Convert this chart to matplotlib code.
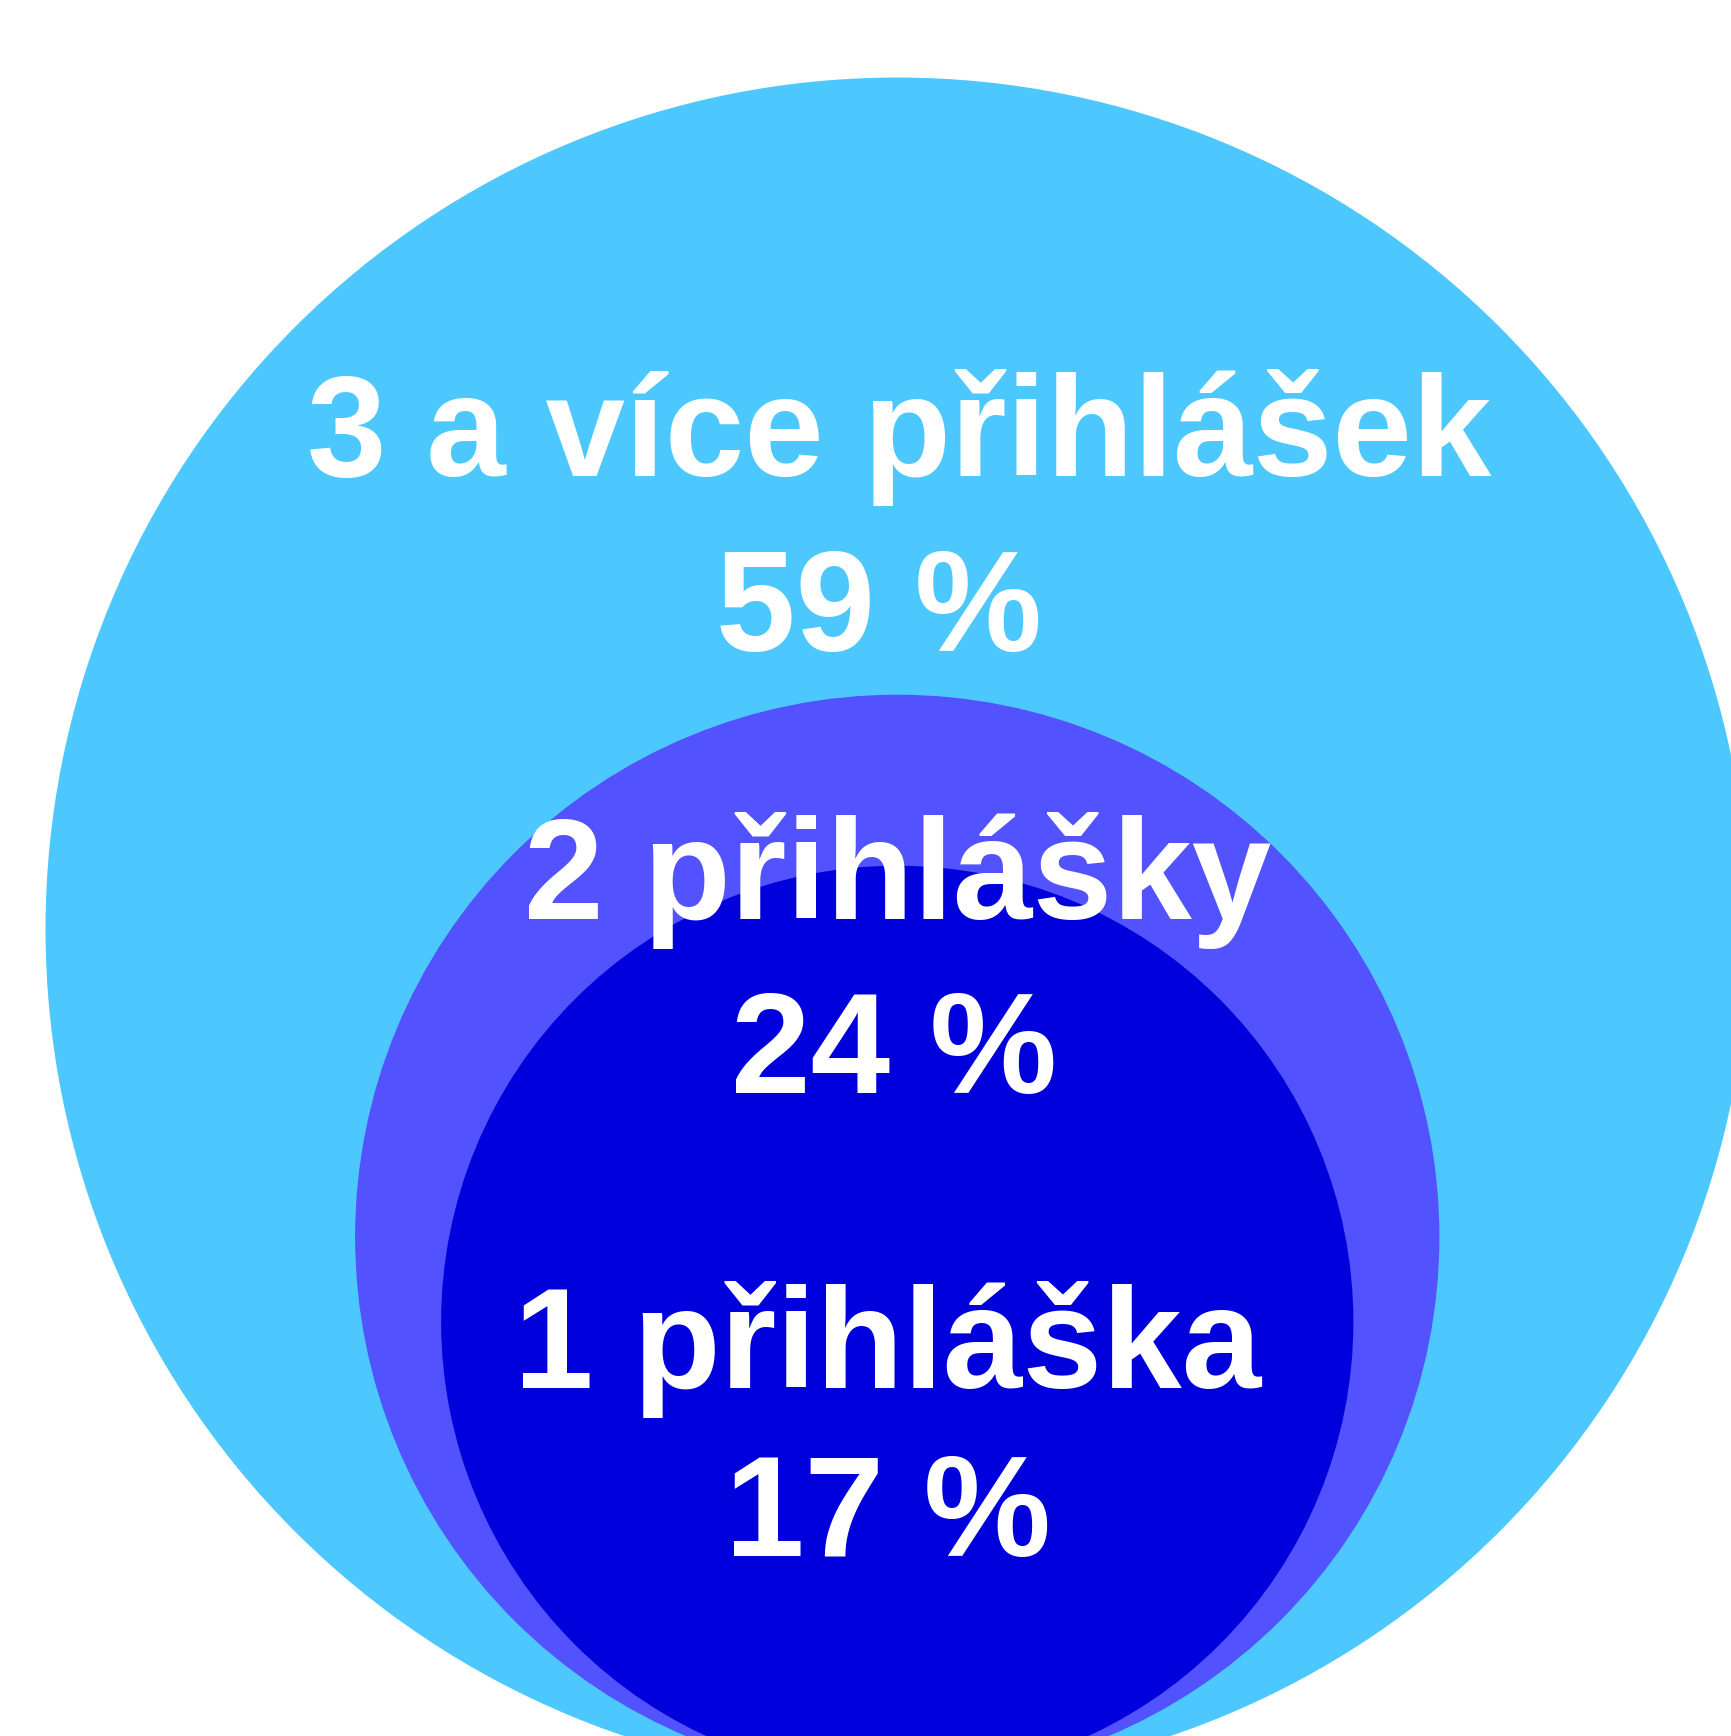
import matplotlib
matplotlib.use("Agg")
import matplotlib.pyplot as plt
from matplotlib.patches import Circle

# categories (outer to inner) and their shares
labels = ["3 a více přihlášek", "2 přihlášky", "1 přihláška"]
shares = [59, 24, 17]
colors = ["#4DC8FF", "#5252FF", "#0000DC"]

# circle layout in pixel coords (x centre, y centre, radius)
circles = [(897, 929.5, 851.5), (897, 1237, 542), (897, 1322, 456)]
# text anchors: (x, baseline of label, baseline of share)
text_pos = [(899, 476, 651), (897, 919, 1093), (887, 1388, 1556)]
share_dx = [-20, -3, 1]

W, H, DPI = 1731, 1736, 100
fig = plt.figure(figsize=((W + 0.5) / DPI, (H + 0.5) / DPI), dpi=DPI)
ax = fig.add_axes([0, 0, 1, 1])
ax.set_xlim(0, W)
ax.set_ylim(H, 0)
ax.set_aspect("equal")
ax.axis("off")

for (cx, cy, r), c in zip(circles, colors):
    ax.add_patch(Circle((cx, cy), r, facecolor=c, edgecolor="none"))

font = dict(family=["Liberation Sans", "DejaVu Sans"], weight="bold",
            color="white", fontsize=103, ha="center", va="baseline")
for lab, val, (x, y1, y2), dx in zip(labels, shares, text_pos, share_dx):
    ax.text(x, y1, lab, **font)
    ax.text(x + dx, y2, "{} %".format(val), **font)

fig.savefig("out.png", dpi=DPI)
